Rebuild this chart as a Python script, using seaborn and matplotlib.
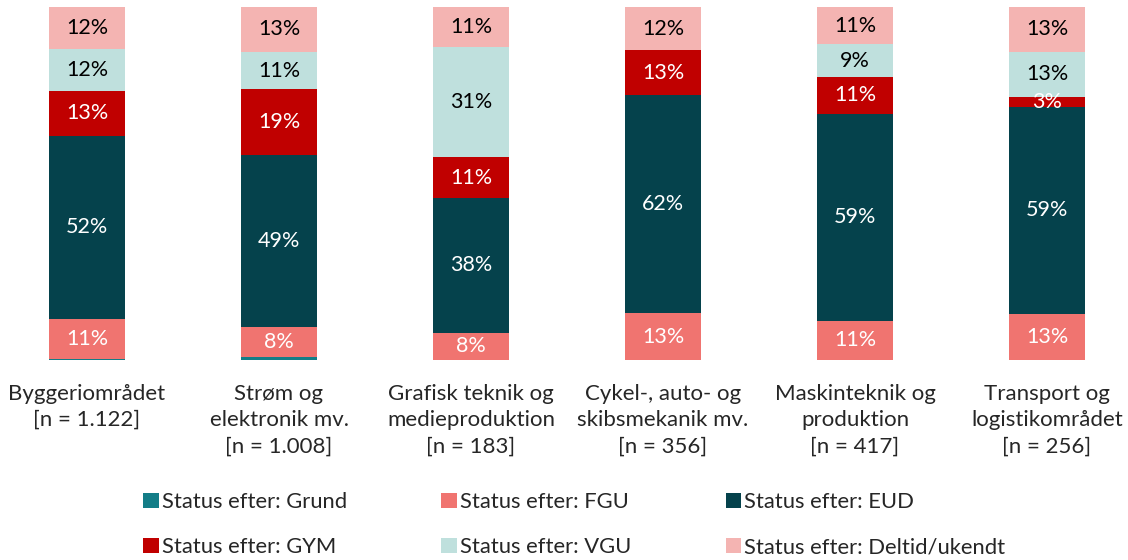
import numpy as np
import pandas as pd
import matplotlib
matplotlib.use('Agg')
import matplotlib.pyplot as plt
from matplotlib.patches import Patch
import seaborn as sns

# %% Data (percent)
categories = ['Byggeriområdet\n[n = 1.122]',
              'Strøm og\nelektronik mv.\n[n = 1.008]',
              'Grafisk teknik og\nmedieproduktion\n[n = 183]',
              'Cykel-, auto- og\nskibsmekanik mv.\n[n = 356]',
              'Maskinteknik og\nproduktion\n[n = 417]',
              'Transport og\nlogistikområdet\n[n = 256]']
grund = [0.4, 0.9, 0.0, 0.0, 0.0, 0.0]
fgu = [11.3, 8.4, 7.7, 13.3, 11.1, 13.1]
eud = [51.8, 48.7, 38.3, 61.8, 58.6, 58.7]
gym = [12.7, 18.7, 11.4, 12.7, 10.6, 2.8]
vgu = [11.8, 10.6, 31.3, 0.0, 9.1, 12.7]
deltid = [12.0, 12.7, 11.3, 12.2, 10.6, 12.7]

series = ['Status efter: Grund', 'Status efter: FGU', 'Status efter: EUD',
          'Status efter: GYM', 'Status efter: VGU', 'Status efter: Deltid/ukendt']
colors = ['#137D87', '#F07470', '#05424C', '#C00000', '#BFE0DD', '#F4B4B2']
text_colors = ['white', 'white', 'white', 'white', 'black', 'black']

df = pd.DataFrame({'cat': categories, series[0]: grund, series[1]: fgu,
                   series[2]: eud, series[3]: gym, series[4]: vgu,
                   series[5]: deltid})

# %% Plot
sns.set_style('white')
plt.rcParams['font.family'] = ['Lato', 'DejaVu Sans']

fig = plt.figure(figsize=(11.28, 5.6), dpi=100)
ax = fig.add_axes([0, 0.357, 1, 0.6304])

cum = df[series].cumsum(axis=1)
# draw cumulative totals from the top layer down so each overlays the next
for i in range(len(series) - 1, -1, -1):
    sns.barplot(x=df['cat'], y=cum[series[i]], color=colors[i], width=0.4,
                saturation=1, linewidth=0, ax=ax, order=categories)

for j in range(len(categories)):
    for i in range(1, len(series)):
        v = df[series[i]].iloc[j]
        if v < 1:
            continue
        mid = cum[series[i]].iloc[j] - v / 2
        ax.text(j, mid, f'{round(v):.0f}%', ha='center', va='center',
                fontsize=15.5, color=text_colors[i])

ax.set_xlim(-87 / 192, (1128 - 87) / 192)
ax.set_ylim(0, 100)
ax.set_ylabel('')
ax.set_xlabel('')
ax.set_yticks([])
ax.set_xticks(range(len(categories)))
ax.set_xticklabels(categories, fontsize=16, linespacing=1.4)
ax.tick_params(axis='x', length=0, pad=17)
sns.despine(ax=ax, left=True, bottom=True)

handles = [Patch(facecolor=c, edgecolor='none') for c in colors]
order = [0, 3, 1, 4, 2, 5]
fig.legend([handles[k] for k in order], [series[k] for k in order],
           ncol=3, loc='upper left', bbox_to_anchor=(0.127, 0.121),
           frameon=False, fontsize=15.8, handlelength=0.7, handleheight=0.7,
           handletextpad=0.15, columnspacing=4.3, labelspacing=1.15,
           borderaxespad=0, borderpad=0)

fig.savefig('out.png', dpi=100)
